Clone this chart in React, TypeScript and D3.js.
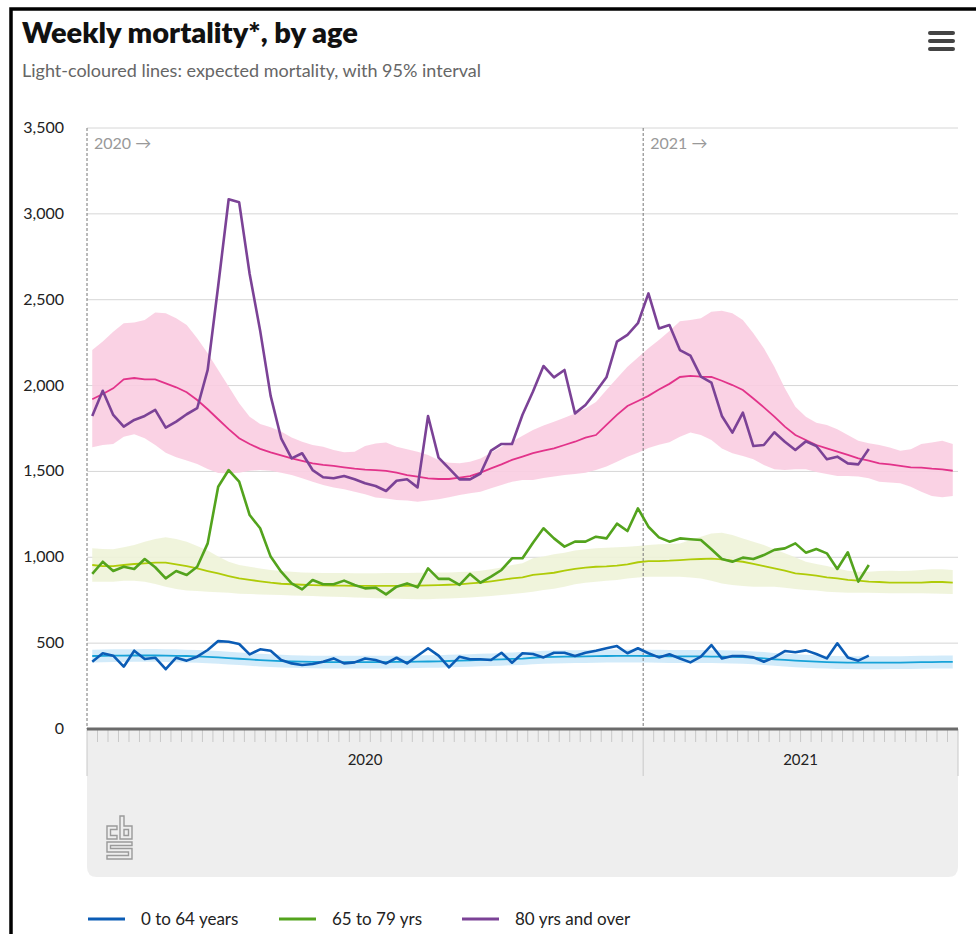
import React from "react";
import * as d3 from "d3";

// x axis: ISO weeks per year shown
const years = ["2020", "2021"];
const weeksInYear = [53, 30];
const yTicks = [0, 500, 1000, 1500, 2000, 2500, 3000, 3500];

// 0 to 64 years
const actualYoung = [
  392, 441, 427, 363, 456, 408, 415, 348, 415, 398,
  421, 460, 512, 508, 495, 435, 464, 456, 402, 382,
  373, 379, 392, 411, 382, 388, 411, 402, 382, 415,
  382, 427, 470, 427, 359, 421, 406, 406, 402, 444,
  386, 441, 437, 417, 444, 444, 425, 444, 456, 470,
  483, 441, 470, 441, 417, 435, 411, 388, 421, 489,
  411, 425, 425, 417, 392, 417, 454, 447, 458, 437,
  411, 499, 417, 398, 427,
];
const expectedYoung = [
  425, 426, 427, 427, 428, 428, 428, 427, 426, 425,
  423, 420, 417, 413, 409, 405, 401, 398, 395, 393,
  392, 391, 390, 390, 390, 390, 390, 390, 390, 391,
  391, 392, 393, 394, 396, 398, 400, 402, 404, 406,
  408, 410, 415, 418, 420, 421, 422, 423, 424, 425,
  426, 426, 426, 425, 424, 423, 423, 423, 423, 422,
  421, 420, 418, 415, 411, 406, 402, 398, 395, 392,
  390, 388, 387, 386, 386, 386, 387, 387, 388, 389,
  390, 391, 391,
];
const upperYoung = [
  462, 463, 464, 464, 465, 466, 466, 465, 464, 462,
  460, 457, 454, 450, 446, 442, 438, 435, 432, 430,
  428, 427, 426, 426, 426, 426, 426, 426, 426, 427,
  427, 428, 429, 430, 432, 434, 436, 438, 440, 443,
  446, 448, 452, 455, 457, 458, 459, 460, 461, 462,
  463, 463, 463, 462, 461, 460, 460, 460, 460, 459,
  458, 457, 455, 452, 448, 443, 439, 435, 432, 429,
  427, 425, 424, 423, 423, 423, 424, 424, 425, 426,
  427, 428, 428,
];
const lowerYoung = [
  388, 389, 390, 390, 391, 391, 391, 390, 389, 388,
  386, 383, 380, 376, 372, 368, 364, 361, 358, 356,
  355, 354, 353, 353, 353, 353, 353, 353, 353, 354,
  354, 355, 356, 357, 359, 361, 363, 365, 367, 369,
  371, 373, 377, 380, 382, 383, 384, 385, 386, 387,
  388, 388, 388, 387, 386, 385, 385, 385, 385, 384,
  383, 382, 380, 377, 373, 368, 364, 360, 357, 354,
  352, 350, 349, 348, 348, 348, 349, 349, 350, 351,
  352, 353, 353,
];

// 65 to 79 yrs
const actualMid = [
  903, 974, 920, 945, 932, 990, 942, 877, 920, 897,
  945, 1081, 1411, 1508, 1440, 1246, 1169, 1004, 916, 848,
  813, 868, 843, 843, 864, 839, 819, 823, 784, 829,
  848, 825, 935, 874, 874, 839, 903, 852, 887, 926,
  994, 994, 1085, 1169, 1110, 1062, 1091, 1091, 1120, 1110,
  1196, 1153, 1285, 1178, 1116, 1091, 1110, 1105, 1101, 1047,
  990, 974, 998, 990, 1013, 1043, 1052, 1081, 1027, 1048,
  1023, 932, 1029, 858, 955,
];
const expectedMid = [
  955, 949, 949, 955, 961, 965, 969, 969, 959, 949,
  935, 920, 906, 891, 877, 868, 860, 852, 846, 843,
  840, 838, 836, 835, 835, 834, 834, 834, 834, 834,
  834, 835, 836, 838, 840, 842, 848, 853, 860, 868,
  877, 883, 897, 903, 910, 922, 932, 940, 945, 947,
  951, 959, 971, 978, 978, 980, 984, 988, 990, 992,
  988, 980, 974, 961, 949, 935, 922, 906, 901, 893,
  883, 877, 868, 864, 858, 856, 853, 853, 852, 853,
  856, 856, 853,
];
const upperMid = [
  1052, 1048, 1047, 1058, 1072, 1091, 1107, 1116, 1107, 1091,
  1066, 1039, 1004, 974, 955, 945, 935, 926, 920, 916,
  912, 910, 909, 908, 908, 907, 907, 907, 908, 908,
  909, 910, 910, 911, 912, 914, 916, 922, 930, 940,
  955, 965, 994, 1004, 1017, 1027, 1039, 1047, 1052, 1056,
  1058, 1062, 1066, 1072, 1076, 1077, 1081, 1101, 1120, 1138,
  1143, 1130, 1110, 1091, 1072, 1047, 1023, 1000, 974, 961,
  949, 935, 922, 916, 916, 920, 922, 920, 922, 926,
  930, 930, 926,
];
const lowerMid = [
  858, 858, 858, 864, 864, 858, 845, 829, 815, 806,
  804, 800, 796, 794, 788, 786, 784, 782, 780, 778,
  776, 774, 772, 770, 768, 766, 764, 762, 760, 758,
  757, 756, 756, 758, 760, 763, 766, 770, 775, 780,
  786, 792, 800, 810, 817, 829, 843, 852, 858, 864,
  868, 877, 883, 887, 887, 887, 887, 883, 877, 864,
  848, 839, 833, 829, 829, 829, 823, 815, 810, 806,
  800, 796, 794, 794, 794, 792, 790, 790, 790, 790,
  789, 788, 786,
];

// 80 yrs and over
const actualOld = [
  1823, 1970, 1829, 1761, 1800, 1823, 1858, 1755, 1790, 1833,
  1868, 2091, 2580, 3085, 3067, 2650, 2320, 1940, 1693, 1576,
  1606, 1508, 1466, 1460, 1473, 1454, 1431, 1415, 1386, 1446,
  1454, 1407, 1823, 1580, 1518, 1454, 1454, 1488, 1621, 1660,
  1660, 1830, 1965, 2114, 2048, 2091, 1838, 1887, 1965, 2048,
  2256, 2295, 2363, 2537, 2333, 2353, 2207, 2174, 2052, 2017,
  1823, 1726, 1843, 1648, 1654, 1728, 1673, 1625, 1675, 1648,
  1571, 1586, 1547, 1541, 1631,
];
const expectedOld = [
  1920, 1951, 1984, 2036, 2044, 2036, 2036, 2013, 1990, 1961,
  1916, 1862, 1804, 1746, 1693, 1660, 1631, 1611, 1594, 1576,
  1561, 1547, 1538, 1532, 1524, 1516, 1510, 1508, 1503, 1493,
  1479, 1470, 1460, 1456, 1456, 1464, 1473, 1493, 1518, 1541,
  1567, 1586, 1606, 1621, 1634, 1654, 1673, 1697, 1712, 1771,
  1829, 1881, 1910, 1940, 1977, 2010, 2050, 2056, 2052, 2050,
  2028, 2003, 1974, 1925, 1873, 1819, 1761, 1712, 1683, 1654,
  1634, 1615, 1596, 1576, 1563, 1547, 1541, 1532, 1524, 1522,
  1516, 1512, 1504,
];
const upperOld = [
  2207, 2256, 2314, 2363, 2367, 2382, 2425, 2421, 2392, 2353,
  2275, 2188, 2091, 1994, 1897, 1819, 1776, 1757, 1732, 1697,
  1673, 1654, 1644, 1625, 1611, 1615, 1648, 1662, 1668, 1644,
  1629, 1615, 1596, 1567, 1551, 1547, 1557, 1576, 1609, 1644,
  1673, 1708, 1741, 1767, 1790, 1813, 1838, 1867, 1905, 1974,
  2042, 2110, 2164, 2217, 2265, 2318, 2375, 2382, 2392, 2430,
  2436, 2421, 2382, 2304, 2217, 2110, 1984, 1877, 1819, 1783,
  1771, 1746, 1712, 1679, 1664, 1654, 1640, 1621, 1629, 1660,
  1668, 1679, 1660,
];
const lowerOld = [
  1641, 1654, 1660, 1702, 1716, 1693, 1654, 1609, 1582, 1563,
  1543, 1514, 1491, 1489, 1493, 1504, 1508, 1504, 1493, 1479,
  1460, 1440, 1421, 1407, 1396, 1382, 1367, 1348, 1343, 1334,
  1330, 1324, 1330, 1338, 1349, 1363, 1373, 1382, 1402, 1421,
  1440, 1450, 1450, 1462, 1470, 1479, 1485, 1493, 1508, 1528,
  1557, 1586, 1609, 1636, 1656, 1670, 1702, 1726, 1712, 1683,
  1634, 1606, 1590, 1571, 1538, 1512, 1508, 1512, 1512, 1497,
  1485, 1473, 1473, 1470, 1460, 1440, 1435, 1431, 1411, 1382,
  1357, 1349, 1357,
];

const groups = [
  { name: "0 to 64 years", actual: actualYoung, expected: expectedYoung, upper: upperYoung, lower: lowerYoung,
    color: "#0b5cb5", expColor: "#16a2d8", band: "#cde9fa" },
  { name: "65 to 79 yrs", actual: actualMid, expected: expectedMid, upper: upperMid, lower: lowerMid,
    color: "#53a31d", expColor: "#afcb08", band: "#eef3d8" },
  { name: "80 yrs and over", actual: actualOld, expected: expectedOld, upper: upperOld, lower: lowerOld,
    color: "#7b4296", expColor: "#e2338a", band: "#f9cde1" },
];

const FONT = "Lato, 'Noto Sans', sans-serif";

export default function App() {
  const left = 87, right = 958, top = 128, bottom = 729;
  const nWeeks = d3.sum(weeksInYear);
  const x = d3.scaleLinear().domain([0, nWeeks]).range([left, right]);
  const y = d3.scaleLinear().domain([0, 3500]).range([bottom, top]);
  const yearStarts = weeksInYear.map((_, i) => d3.sum(weeksInYear.slice(0, i)));

  const line = d3.line<number>().x((_, i) => x(i + 0.5)).y((d) => y(d));

  const legendX = [88, 279, 462];

  return (
    <svg width={976} height={934} style={{ position: "absolute", left: 0, top: 0, display: "block" }}
      fontFamily={FONT}>
      <rect x={0} y={0} width={976} height={934} fill="#fff" />
      <rect x={11} y={9} width={1000} height={1000} fill="none" stroke="#000" strokeWidth={3.5} />

      <text x={22} y={43} fontSize={29} fontWeight={800} fill="#111">Weekly mortality*, by age</text>
      <text x={22} y={77} fontSize={18} fill="#666">
        Light-coloured lines: expected mortality, with 95% interval
      </text>

      {/* menu icon */}
      {[31, 39, 47].map((yy) => (
        <rect key={yy} x={928} y={yy} width={27} height={4} rx={2} fill="#444" />
      ))}

      {/* grid */}
      {yTicks.filter((t) => t > 0).map((t) => (
        <line key={t} x1={left} x2={right} y1={y(t)} y2={y(t)} stroke="#d6d6d6" strokeWidth={1} />
      ))}
      {yTicks.map((t) => (
        <text key={t} x={64} y={y(t) + 5} textAnchor="end" fontSize={16} fill="#222">
          {d3.format(",")(t)}
        </text>
      ))}

      {/* x axis band */}
      <path
        d={`M${left},${bottom} H${right} V${877 - 10} Q${right},877 ${right - 10},877 H${left + 10} Q${left},877 ${left},${877 - 10} Z`}
        fill="#eeeeee"
      />
      {d3.range(nWeeks + 1).filter((i) => !yearStarts.includes(i) && i !== nWeeks).map((i) => (
        <line key={i} x1={x(i)} x2={x(i)} y1={bottom} y2={742} stroke="#c8c8c8" strokeWidth={1} />
      ))}
      {[...yearStarts, nWeeks].map((s) => (
        <line key={s} x1={x(s)} x2={x(s)} y1={bottom} y2={776} stroke="#c8c8c8" strokeWidth={1} />
      ))}
      {years.map((yr, i) => (
        <text key={yr} x={(x(yearStarts[i]) + x(yearStarts[i] + weeksInYear[i])) / 2} y={765}
          textAnchor="middle" fontSize={15} fill="#222">{yr}</text>
      ))}

      {/* bands */}
      {groups.map((g) => (
        <path key={g.name + "band"}
          d={d3.area<number>().x((_, i) => x(i + 0.5)).y0((_, i) => y(g.lower[i])).y1((d) => y(d))(g.upper) || ""}
          fill={g.band} fillOpacity={0.9} />
      ))}

      {/* year dividers */}
      {yearStarts.map((s, i) => (
        <g key={s}>
          <line x1={x(s)} x2={x(s)} y1={top} y2={bottom} stroke="#777" strokeWidth={1} strokeDasharray="3,2" />
          <text x={x(s) + 7} y={149} fontSize={16} fill="#999">{years[i]} →</text>
        </g>
      ))}

      {/* expected lines */}
      {groups.map((g) => (
        <path key={g.name + "exp"} d={line(g.expected) || ""} fill="none" stroke={g.expColor} strokeWidth={1.8} />
      ))}
      {/* actual lines */}
      {groups.map((g) => (
        <path key={g.name} d={line(g.actual) || ""} fill="none" stroke={g.color} strokeWidth={2.6}
          strokeLinejoin="round" />
      ))}

      <line x1={left} x2={right} y1={bottom} y2={bottom} stroke="#6b6b6b" strokeWidth={3} />

      {/* cbs logo */}
      <g transform="translate(105,815)" fill="none" stroke="#9a9a9a" strokeWidth={1.4}>
        <path d="M12,11 H2 V24 H12 V20.5 H5.5 V14.5 H12 Z" />
        <path d="M15,24 H27 V11 H19 V1 H15 Z" />
        <path d="M19,14.5 H23.5 V20.5 H19 Z" />
        <path d="M2,27 H27 V30.5 H5.5 V33.5 H27 V44 H2 V40.5 H23.5 V37 H2 Z" />
      </g>

      {/* legend */}
      {groups.map((g, i) => (
        <g key={g.name + "leg"}>
          <line x1={legendX[i]} x2={legendX[i] + 37} y1={919} y2={919} stroke={g.color} strokeWidth={3} />
          <text x={legendX[i] + 53} y={925} fontSize={17} fill="#222">{g.name}</text>
        </g>
      ))}
    </svg>
  );
}
